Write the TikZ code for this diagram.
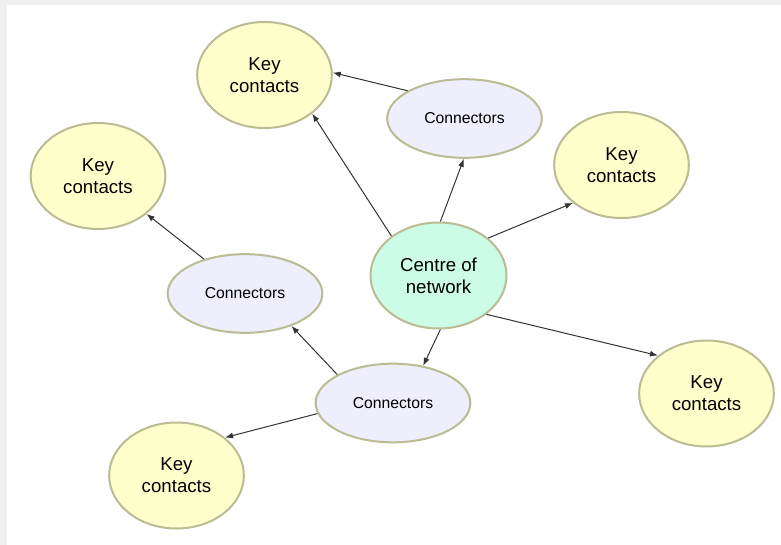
\documentclass[tikz,border=0pt]{standalone}
\usepackage{fontspec}
\setmainfont{Liberation Sans}
\usepackage{xcolor}
\usetikzlibrary{shapes.geometric, arrows.meta}

\definecolor{edgegrey}{HTML}{BBBB94}
\definecolor{keyfill}{HTML}{FFFFCC}
\definecolor{connfill}{HTML}{EFEEFC}
\definecolor{centrefill}{HTML}{CCFBE6}
\definecolor{framegrey}{HTML}{F0F0F0}

\begin{document}
\begin{tikzpicture}[x=0.75pt, y=-0.75pt,
    keycontact/.style={ellipse, draw=edgegrey, line width=1.5pt, fill=keyfill,
      minimum width=101pt, minimum height=79.5pt, inner sep=0pt, align=center,
      font=\fontsize{14}{16.5}\selectfont},
    connector/.style={ellipse, draw=edgegrey, line width=1.5pt, fill=connfill,
      minimum width=116pt, minimum height=59pt, inner sep=0pt, align=center,
      font=\fontsize{11.8}{13}\selectfont},
    centre/.style={keycontact, fill=centrefill, minimum width=102pt},
    link/.style={-{Latex[length=6pt, width=4.5pt]}, line width=0.75pt, draw=black!80}]
  \useasboundingbox (0,0) rectangle (781,545);
  % Frame
  \fill[framegrey] (0,0) rectangle (781,545);
  \fill[white] (7,5) rectangle (781,545);

  % Centre
  \node[centre] (net) at (438.5, 275.5) {Centre of\\network};

  % Connectors
  \node[connector] (conntop) at (464.5, 118.5) {Connectors};
  \node[connector] (connmid) at (245, 293.5) {Connectors};
  \node[connector] (connlow) at (393, 403) {Connectors};

  % Key contacts
  \node[keycontact] (keytop) at (264.5, 75) {Key\\contacts};
  \node[keycontact] (keyleft) at (98, 176) {Key\\contacts};
  \node[keycontact] (keyright) at (621.5, 165) {Key\\contacts};
  \node[keycontact] (keyfar) at (706.5, 393.5) {Key\\contacts};
  \node[keycontact] (keylow) at (176.5, 475.5) {Key\\contacts};

  % Links from the centre
  \draw[link] (net.140) -- (keytop.321);
  \draw[link] (net.88) -- (conntop.269);
  \draw[link] (net.37) -- (keyright.218);
  \draw[link] (net.321) -- (keyfar.142);
  \draw[link] (net.272) -- (connlow.51);
  % Links from the connectors
  \draw[link] (conntop.154) -- (keytop.2);
  \draw[link] (connlow.153) -- (connmid.325);
  \draw[link] (connlow.188) -- (keylow.38);
  \draw[link] (connmid.140) -- (keyleft.322);
\end{tikzpicture}
\end{document}
